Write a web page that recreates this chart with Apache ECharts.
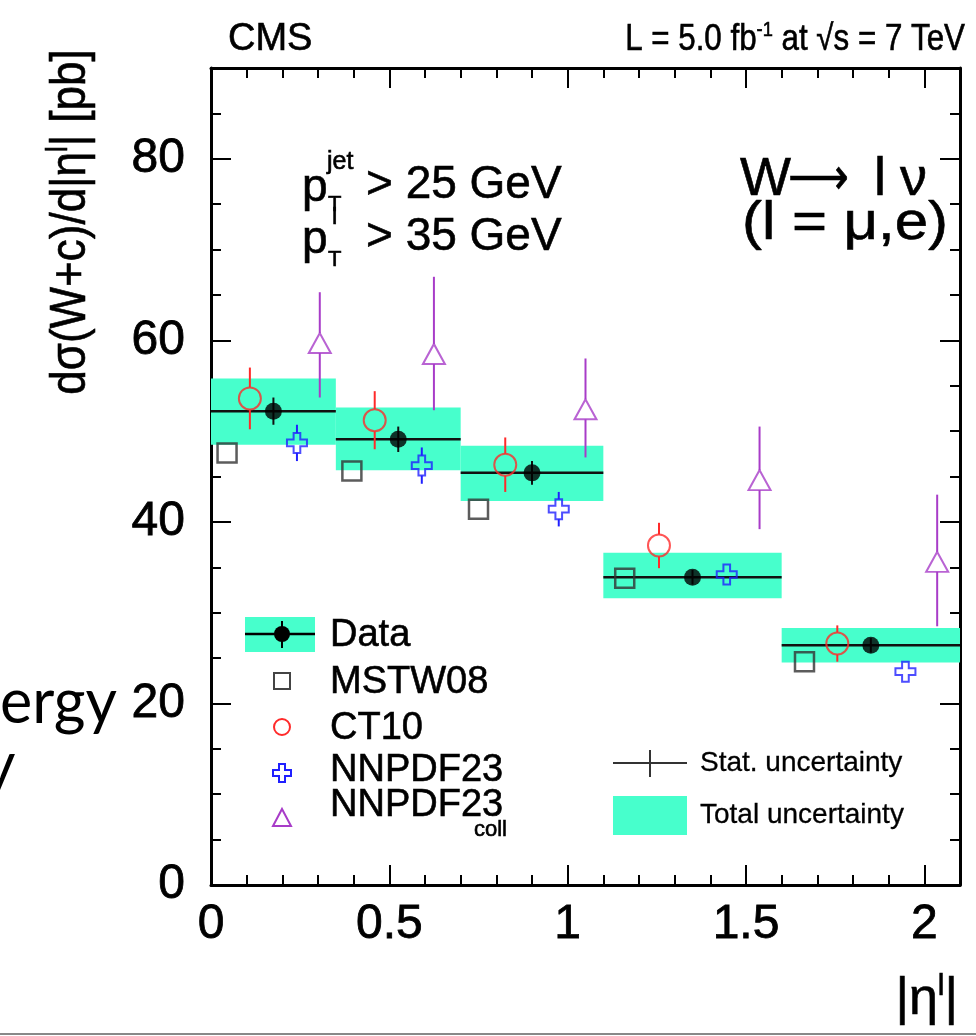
<!DOCTYPE html>
<html><head><meta charset="utf-8">
<script src="https://cdn.jsdelivr.net/npm/echarts@6/dist/echarts.min.js"></script>
<style>html,body{margin:0;padding:0;background:#fff}#c{width:976px;height:1036px}</style>
</head><body><div id="c"></div>
<script>
// ---- data ----
const binEdges = [0, 0.35, 0.7, 1.1, 1.6, 2.1];
const dataX = [0.175, 0.525, 0.9, 1.35, 1.85];
const dataY = [52.2, 49.1, 45.4, 33.9, 26.4];
const dataStat = [1.5, 1.4, 1.3, 0.8, 0.8];
const dataTotLow = [48.5, 45.7, 42.3, 31.6, 24.5];
const dataTotHigh = [55.8, 52.6, 48.4, 36.6, 28.3];
const mstwX = [0.045, 0.395, 0.75, 1.16, 1.664];
const mstwY = [47.6, 45.6, 41.4, 33.8, 24.6];
const ct10X = [0.109, 0.459, 0.825, 1.256, 1.756];
const ct10Y = [53.6, 51.2, 46.3, 37.4, 26.6];
const ct10Err = [3.4, 3.2, 3.0, 2.5, 2.0];
const nnX = [0.241, 0.591, 0.975, 1.446, 1.947];
const nnY = [48.7, 46.2, 41.4, 34.2, 23.5];
const nnErr = [2.0, 2.0, 1.9, 1.0, 1.0];
const collX = [0.305, 0.625, 1.05, 1.538, 2.036];
const collY = [59.7, 58.5, 52.4, 44.6, 35.6];
const collHigh = [65.3, 67.0, 58.0, 50.5, 43.0];
const collLow = [53.7, 52.3, 47.1, 39.2, 28.5];
const xTickLabels = ['0', '0.5', '1', '1.5', '2'];
const yTickLabels = ['0', '20', '40', '60', '80'];

const TEAL = '#47ffcc';
const C_MSTW = '#333333', C_CT10 = '#ff2a2a', C_NN = '#2020ff', C_COLL = '#a83cc8';
const FONT = 'Liberation Sans, Arial, Helvetica, sans-serif';

const chart = echarts.init(document.getElementById('c'), null, {renderer: 'canvas'});

function xAx(pos, interval, len, showLine, showLabel) {
  return {
    type: 'value', min: 0, max: 2.1, interval: interval, position: pos,
    axisLine: {show: showLine, onZero: false, lineStyle: {color: '#000', width: 3}},
    axisTick: {show: true, inside: true, length: len, lineStyle: {color: '#000', width: 2}},
    axisLabel: {show: showLabel, showMaxLabel: false, margin: 16, fontSize: 48, fontFamily: FONT, color: '#000',
      textBorderColor: '#000', textBorderWidth: 0.8,
      formatter: v => { const i = xTickLabels.indexOf(String(+v.toFixed(2))); return i >= 0 ? xTickLabels[i] : ''; }},
    splitLine: {show: false}
  };
}
function yAx(pos, interval, len, showLine, showLabel) {
  return {
    type: 'value', min: 0, max: 90, interval: interval, position: pos,
    axisLine: {show: showLine, onZero: false, lineStyle: {color: '#000', width: 3}},
    axisTick: {show: true, inside: true, length: len, lineStyle: {color: '#000', width: 2}},
    axisLabel: {show: showLabel, showMaxLabel: false, margin: 26, fontSize: 48, fontFamily: FONT, color: '#000',
      textBorderColor: '#000', textBorderWidth: 0.8,
      formatter: v => { const i = yTickLabels.indexOf(String(v)); return i >= 0 ? yTickLabels[i] : ''; }},
    splitLine: {show: false}
  };
}

function vErr(color, gap, width) {
  return function (params, api) {
    const x = api.value(0), y = api.value(1), hi = api.value(2), lo = api.value(3);
    const p = api.coord([x, y]), t = api.coord([x, hi]), b = api.coord([x, lo]);
    const ch = [];
    if (t[1] < p[1] - gap) ch.push({type: 'line', shape: {x1: p[0], y1: t[1], x2: p[0], y2: p[1] - gap}, style: {stroke: color, lineWidth: width}});
    if (b[1] > p[1] + gap) ch.push({type: 'line', shape: {x1: p[0], y1: p[1] + gap, x2: p[0], y2: b[1]}, style: {stroke: color, lineWidth: width}});
    return {type: 'group', children: ch};
  };
}

const boxData = dataY.map((v, i) => [binEdges[i], binEdges[i + 1], dataTotLow[i], dataTotHigh[i]]);
const dataBarData = dataY.map((v, i) => [binEdges[i], binEdges[i + 1], v, dataStat[i], dataX[i]]);
const ct10ErrData = ct10Y.map((v, i) => [ct10X[i], v, v + ct10Err[i], v - ct10Err[i]]);
const nnErrData = nnY.map((v, i) => [nnX[i], v, v + nnErr[i], v - nnErr[i]]);
const collErrData = collY.map((v, i) => [collX[i], v, collHigh[i], collLow[i]]);

const crossPath = 'path://M-3,-9L3,-9L3,-3L9,-3L9,3L3,3L3,9L-3,9L-3,3L-9,3L-9,-3L-3,-3Z';

// ---- texts / legend (decoration) ----
function T(x, y, text, size, extra) {
  return Object.assign({type: 'text', x: x, y: y, style: Object.assign({text: text, fontSize: size, fontFamily: FONT, fill: '#000',
    stroke: '#000', lineWidth: 0.6,
    align: 'left', textAlign: 'left', verticalAlign: 'middle', textVerticalAlign: 'middle'}, extra && extra.style || {})},
    extra && extra.el || {});
}
function crossPts(cx, cy, s, a) {
  return [[-a,-s],[a,-s],[a,-a],[s,-a],[s,a],[a,a],[a,s],[-a,s],[-a,a],[-s,a],[-s,-a],[-a,-a]].map(p => [cx + p[0], cy + p[1]]);
}
const supRich = (n, s, lh) => ({n: {fontSize: n, fontFamily: FONT, lineHeight: lh}, s: {fontSize: s, fontFamily: FONT, lineHeight: s, verticalAlign: 'top'}});

const graphics = [
  T(228, 40, 'CMS', 38),
  T(965, 40, '{n|L = 5.0 fb}{s|-1}{n| at √s = 7 TeV}', 36, {el: {scaleX: 0.87}, style: {align: 'right', textAlign: 'right', rich: supRich(36, 21, 40)}}),
  // y-axis title
  T(0, 0, '{n|dσ(W+c)/d|η}{s|l}{n|| [pb]}', 50, {el: {x: 71, y: 222, rotation: Math.PI / 2, scaleX: 0.88},
    style: {align: 'center', textAlign: 'center', rich: supRich(50, 29, 54)}}),
  // x-axis title
  T(958, 1000, '{n||η}{s|l}{n||}', 52, {style: {align: 'right', textAlign: 'right', rich: supRich(52, 30, 56)}}),
  // cuts
  T(302, 188, 'p', 46), T(327, 162, 'jet', 25), T(328, 205, 'T', 22), T(366, 185, '> 25 GeV', 46),
  T(302, 240, 'p', 46), T(332, 217, 'l', 24), T(328, 260, 'T', 22), T(366, 237, '> 35 GeV', 46),
  // process
  T(740, 180, 'W', 54), T(788, 180, '⟶', 50, {el: {scaleX: 0.85}}), T(874, 180, 'l', 54), T(900, 180, 'ν', 54),
  T(742, 224, '(l = μ,e)', 54, {el: {scaleX: 1.11}}),
  // left legend
  {type: 'rect', shape: {x: 245, y: 617, width: 70, height: 35}, style: {fill: TEAL}},
  {type: 'line', shape: {x1: 245, y1: 634, x2: 315, y2: 634}, style: {stroke: '#000', lineWidth: 2.5}},
  {type: 'line', shape: {x1: 282, y1: 621, x2: 282, y2: 648}, style: {stroke: '#000', lineWidth: 2}},
  {type: 'circle', shape: {cx: 282, cy: 634, r: 8}, style: {fill: '#000'}},
  {type: 'rect', shape: {x: 274, y: 673, width: 16, height: 16}, style: {fill: 'none', stroke: '#444', lineWidth: 2}},
  {type: 'circle', shape: {cx: 282, cy: 727, r: 8}, style: {fill: 'none', stroke: C_CT10, lineWidth: 2}},
  {type: 'polygon', shape: {points: crossPts(282, 773, 9, 3)}, style: {fill: 'none', stroke: C_NN, lineWidth: 2}},
  {type: 'polygon', shape: {points: [[282, 809], [291, 826], [273, 826]]}, style: {fill: 'none', stroke: C_COLL, lineWidth: 2}},
  T(330, 636, 'Data', 38), T(330, 683, 'MSTW08', 38), T(330, 729, 'CT10', 38), T(330, 771, 'NNPDF23', 38),
  T(330, 806, 'NNPDF23', 38), T(474, 830, 'coll', 22),
  // right legend
  {type: 'line', shape: {x1: 613, y1: 763, x2: 687, y2: 763}, style: {stroke: '#333', lineWidth: 2}},
  {type: 'line', shape: {x1: 650, y1: 750, x2: 650, y2: 777}, style: {stroke: '#333', lineWidth: 2}},
  {type: 'rect', shape: {x: 613, y: 796, width: 74, height: 39}, style: {fill: TEAL}},
  T(700, 763, 'Stat. uncertainty', 28, {style: {lineWidth: 0.3}}), T(700, 815, 'Total uncertainty', 28, {style: {lineWidth: 0.3}}),
  // slide fragments
  T(0, 703, 'ergy', 61, {style: {fontFamily: 'Lato, sans-serif', lineWidth: 0}}),
  T(-16, 766, 'y', 61, {style: {fontFamily: 'Lato, sans-serif', lineWidth: 0}}),
  {type: 'line', shape: {x1: 0, y1: 1034, x2: 976, y2: 1034}, style: {stroke: '#888', lineWidth: 2}}
];

const option = {
  animation: false,
  backgroundColor: '#fff',
  grid: {left: 211, right: 16, top: 68, bottom: 151, containLabel: false},
  xAxis: [xAx('bottom', 0.5, 20, true, true), xAx('bottom', 0.1, 10, false, false), xAx('top', 0.5, 20, true, false), xAx('top', 0.1, 10, false, false)],
  yAxis: [yAx('left', 20, 20, true, true), yAx('left', 5, 10, false, false), yAx('right', 20, 20, true, false), yAx('right', 5, 10, false, false)],
  series: [
    {type: 'custom', name: 'Total uncertainty', z: 1, data: boxData, encode: {x: [0, 1], y: [2, 3]},
     renderItem: (params, api) => {
       const a = api.coord([api.value(0), api.value(3)]), b = api.coord([api.value(1), api.value(2)]);
       return {type: 'rect', shape: {x: a[0], y: a[1], width: b[0] - a[0], height: b[1] - a[1]}, style: {fill: TEAL}};
     }},
    {type: 'custom', name: 'Data bars', z: 3, data: dataBarData, encode: {x: [0, 1], y: 2},
     renderItem: (params, api) => {
       const lo = api.value(0), hi = api.value(1), y = api.value(2), st = api.value(3), xc = api.value(4);
       const l = api.coord([lo, y]), r = api.coord([hi, y]), t = api.coord([xc, y + st]), b = api.coord([xc, y - st]);
       return {type: 'group', children: [
         {type: 'line', shape: {x1: l[0], y1: l[1], x2: r[0], y2: r[1]}, style: {stroke: '#111', lineWidth: 2.5}},
         {type: 'line', shape: {x1: t[0], y1: t[1], x2: b[0], y2: b[1]}, style: {stroke: '#111', lineWidth: 2}}
       ]};
     }},
    {type: 'custom', name: 'CT10 err', z: 3, data: ct10ErrData, encode: {x: 0, y: [2, 3]}, renderItem: vErr(C_CT10, 11, 2)},
    {type: 'custom', name: 'NNPDF err', z: 3, data: nnErrData, encode: {x: 0, y: [2, 3]}, renderItem: vErr(C_NN, 10, 2)},
    {type: 'custom', name: 'coll err', z: 3, data: collErrData, encode: {x: 0, y: [2, 3]}, renderItem: vErr(C_COLL, 10, 2)},
    {type: 'scatter', name: 'MSTW08', z: 4, symbol: 'rect', symbolSize: 19, data: mstwX.map((x, i) => [x, mstwY[i]]),
     itemStyle: {color: 'rgba(0,0,0,0)', borderColor: C_MSTW, borderWidth: 2.5}},
    {type: 'scatter', name: 'CT10', z: 4, symbol: 'circle', symbolSize: 22, data: ct10X.map((x, i) => [x, ct10Y[i]]),
     itemStyle: {color: 'rgba(0,0,0,0)', borderColor: C_CT10, borderWidth: 2}},
    {type: 'scatter', name: 'NNPDF23', z: 4, symbol: crossPath, symbolSize: 20, data: nnX.map((x, i) => [x, nnY[i]]),
     itemStyle: {color: 'rgba(0,0,0,0)', borderColor: C_NN, borderWidth: 2}},
    {type: 'scatter', name: 'NNPDF23coll', z: 4, symbol: 'triangle', symbolSize: [22, 20], data: collX.map((x, i) => [x, collY[i]]),
     itemStyle: {color: 'rgba(0,0,0,0)', borderColor: C_COLL, borderWidth: 2}},
    {type: 'scatter', name: 'Data', z: 5, symbol: 'circle', symbolSize: 17, data: dataX.map((x, i) => [x, dataY[i]]),
     itemStyle: {color: '#000'}}
  ],
  graphic: {elements: graphics}
};
chart.setOption(option);
</script>
</body></html>
